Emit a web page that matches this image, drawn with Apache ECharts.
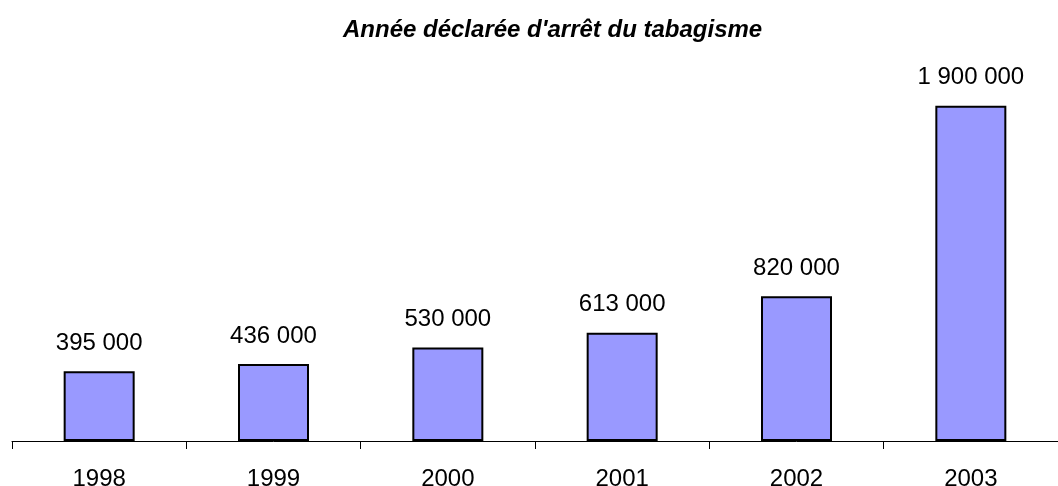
<!DOCTYPE html>
<html>
<head>
<meta charset="utf-8">
<script src="https://cdn.jsdelivr.net/npm/echarts@6/dist/echarts.min.js"></script>
<style>
  html, body { margin: 0; padding: 0; background: #fff; }
  #chart { width: 1058px; height: 486px; }
</style>
</head>
<body>
<div id="chart"></div>
<script>
  const years = ['1998', '1999', '2000', '2001', '2002', '2003'];
  const quitters = [395000, 436000, 530000, 613000, 820000, 1900000];

  const fmt = v => String(v).replace(/\B(?=(\d{3})+(?!\d))/g, ' ');

  const chart = echarts.init(document.getElementById('chart'));
  chart.setOption({
    backgroundColor: '#ffffff',
    animation: false,
    title: {
      text: "Année déclarée d'arrêt du tabagisme",
      left: 338,
      top: 13,
      textStyle: {
        fontFamily: '"Liberation Sans", Arial, sans-serif',
        fontStyle: 'italic',
        fontWeight: 'bold',
        fontSize: 24,
        color: '#000',
      },
    },
    grid: {
      left: 12,
      right: 0,
      top: 88,
      bottom: 45,
      containLabel: false,
      outerBoundsMode: 'none',
    },
    xAxis: {
      type: 'category',
      data: years,
      axisLine: { lineStyle: { color: '#000', width: 1 } },
      axisTick: { show: true, length: 8, lineStyle: { color: '#000' } },
      axisLabel: {
        color: '#000',
        fontFamily: '"Liberation Sans", Arial, sans-serif',
        fontSize: 24,
        margin: 26,
      },
    },
    yAxis: {
      type: 'value',
      min: 0,
      max: 2000000,
      show: false,
      splitLine: { show: false },
    },
    series: [{
      type: 'bar',
      data: quitters,
      barWidth: 71,
      itemStyle: {
        color: '#9999ff',
        borderColor: '#000',
        borderWidth: 2,
      },
      label: {
        show: true,
        position: 'top',
        distance: 16,
        color: '#000',
        fontFamily: '"Liberation Sans", Arial, sans-serif',
        fontSize: 24,
        formatter: p => fmt(p.value),
      },
    }],
  });
</script>
</body>
</html>
